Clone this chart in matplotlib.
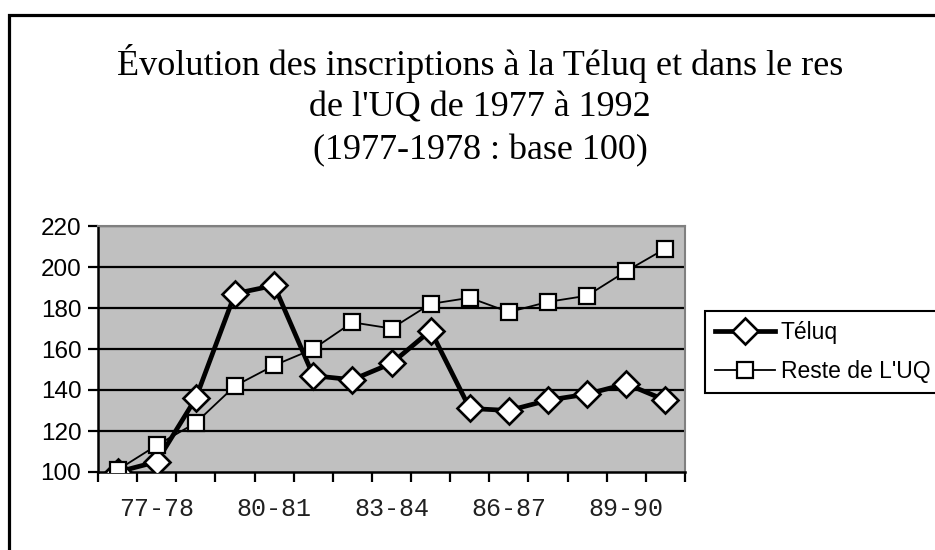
import numpy as np
import matplotlib.pyplot as plt
from matplotlib.patches import Rectangle

# valeurs (base 100 en 1977-1978)
annees = ['77-78', '78-79', '79-80', '80-81', '81-82', '82-83', '83-84', '84-85',
          '85-86', '86-87', '87-88', '88-89', '89-90', '90-91', '91-92']
teluq = [100, 105, 136, 187, 191, 147, 145, 153, 169, 131, 130, 135, 138, 143, 135]
reste = [101, 113, 124, 142, 152, 160, 173, 170, 182, 185, 178, 183, 186, 198, 209]

# étiquettes affichées sous l'axe (une sur trois)
etiq_pos = [1, 4, 7, 10, 13]
etiq_txt = ['77-78', '80-81', '83-84', '86-87', '89-90']

W, H = 935, 550
fig = plt.figure(figsize=(W / 100, H / 100), dpi=100)
fig.patch.set_facecolor('white')

# cadre extérieur
fig.patches.append(Rectangle((9 / W, -0.2), 1.2, 1 - 14.5 / H + 0.2,
                             transform=fig.transFigure, fill=False,
                             edgecolor='black', linewidth=2.3))

ax = fig.add_axes([98 / W, (H - 472) / H, (685 - 98) / W, (472 - 226) / H])
ax.set_facecolor('#c0c0c0')

x = np.arange(len(annees))
ax.plot(x, teluq, color='black', linewidth=3.4, marker='D', markersize=13,
        markerfacecolor='white', markeredgecolor='black', markeredgewidth=1.9,
        label='Téluq', zorder=4)
ax.plot(x, reste, color='black', linewidth=1.3, marker='s', markersize=12,
        markerfacecolor='white', markeredgecolor='black', markeredgewidth=1.6,
        label="Reste de L'UQ", zorder=5)

ax.set_xlim(-0.5, len(annees) - 0.5)
ax.set_ylim(100, 220)
ax.set_yticks(range(100, 221, 20))
for v in range(120, 221, 20):
    ax.axhline(v, color='black', linewidth=1.6, zorder=1)

ax.set_xticks(etiq_pos)
ax.set_xticklabels(etiq_txt, family='Liberation Mono', fontsize=18, color='#202020')
ax.set_xticks(np.arange(-0.5, len(annees)), minor=True)
ax.tick_params(axis='x', which='major', length=0, pad=18)
ax.tick_params(axis='x', which='minor', length=7, width=1.6, direction='out')
ax.tick_params(axis='y', length=7, width=1.6, direction='out', labelsize=17.5, pad=5)
for lab in ax.get_yticklabels():
    lab.set_family('Liberation Sans')

ax.spines['left'].set_linewidth(1.8)
ax.spines['bottom'].set_linewidth(1.8)
ax.spines['top'].set_color('#808080')
ax.spines['right'].set_color('#808080')
ax.spines['top'].set_linewidth(1.5)
ax.spines['right'].set_linewidth(1.5)

fig.text(480 / W, 1 - 44 / H,
         "Évolution des inscriptions à la Téluq et dans le res\n"
         "de l'UQ de 1977 à 1992\n(1977-1978 : base 100)",
         ha='center', va='top', family='Liberation Serif', fontsize=26,
         linespacing=1.36, color='black')

leg = ax.legend(loc='upper left', bbox_to_anchor=(705 / W, 1 - 311 / H),
                bbox_transform=fig.transFigure, borderaxespad=0,
                prop={'family': 'Liberation Sans', 'size': 16.5},
                handlelength=2.6, handletextpad=0.25, labelspacing=0.68,
                borderpad=0.45, fancybox=False, framealpha=1)
leg.get_frame().set_edgecolor('black')
leg.get_frame().set_linewidth(1.5)

fig.savefig('out.png', dpi=100)
